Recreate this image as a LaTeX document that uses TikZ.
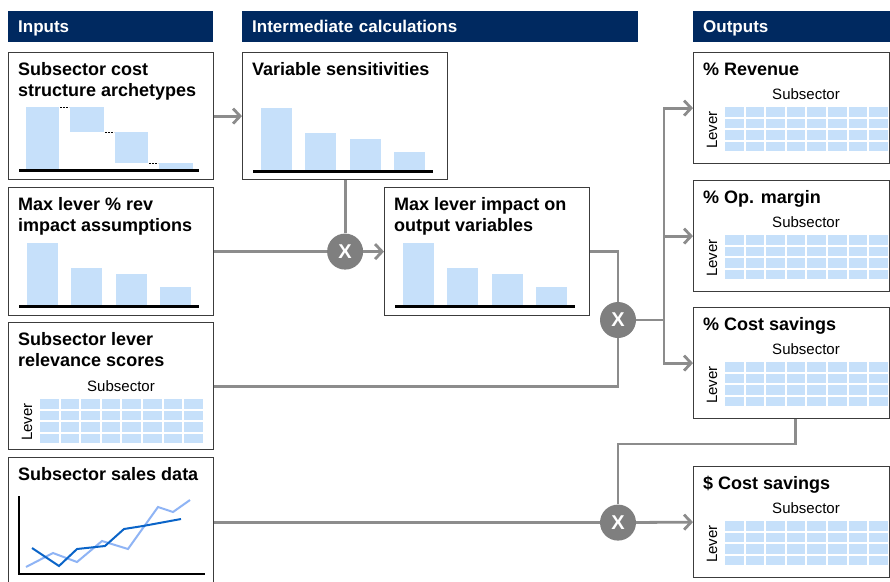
\documentclass[tikz,border=0pt]{standalone}
\usepackage{fontspec}
\setmainfont{Liberation Sans}
\definecolor{HeadNavy}{HTML}{002960}
\definecolor{BoxGray}{HTML}{3C3C3C}
\definecolor{LineGray}{HTML}{8C8C8C}
\definecolor{DotGray}{HTML}{7F7F7F}
\definecolor{BarBlue}{HTML}{C6E0FA}
\definecolor{LightLine}{HTML}{8FB4F5}
\definecolor{DarkLine}{HTML}{0A64C8}
\usetikzlibrary{positioning, arrows.meta, calc}

\begin{document}
\begin{tikzpicture}[
  x=1pt, y=-1pt,
  head/.style={fill=HeadNavy, text=white, anchor=north west, minimum height=31pt,
               inner xsep=10pt, inner ysep=0pt, align=left, text height=14pt, text depth=2pt,
               font=\fontsize{17}{20}\selectfont\bfseries},
  panel/.style={draw=BoxGray, line width=1.2pt, fill=white, anchor=north west, inner sep=0pt},
  title/.style={anchor=base west, align=left, inner sep=0pt,
                font=\fontsize{18}{21}\selectfont\bfseries},
  lab/.style={inner sep=0pt, font=\fontsize{15}{15}\selectfont},
  bar/.style={fill=BarBlue},
  axis/.style={line width=3pt},
  tick/.style={line width=0.8pt, dash pattern=on 2pt off 1pt},
  conn/.style={draw=LineGray, line width=2.8pt},
  arr/.style={conn, -{Straight Barb[length=7pt, width=15pt]}},
  mult/.style={circle, fill=DotGray, text=white, minimum size=36pt, inner sep=0pt,
               font=\fontsize{20}{20}\selectfont\bfseries},
]
  \useasboundingbox (0,0) rectangle (890,581);

  % column headers
  \node[head, text width=185pt] (h-in)  at (8,11)   {Inputs};
  \node[head, text width=376pt] (h-mid) at (242,11) {Intermediate calculations};
  \node[head, text width=177pt] (h-out) at (693,11) {Outputs};

  % panels
  \node[panel, minimum width=205pt, minimum height=127pt] (in1)  at (8,52)   {};
  \node[panel, minimum width=205pt, minimum height=128pt] (in2)  at (8,187)  {};
  \node[panel, minimum width=205pt, minimum height=127pt] (in3)  at (8,322)  {};
  \node[panel, minimum width=205pt, minimum height=130pt] (in4)  at (8,457)  {};
  \node[panel, minimum width=205pt, minimum height=127pt] (mid1) at (242,52) {};
  \node[panel, minimum width=205pt, minimum height=128pt] (mid2) at (384,187) {};
  \node[panel, minimum width=196pt, minimum height=111pt] (out1) at (693,52)  {};
  \node[panel, minimum width=196pt, minimum height=111pt] (out2) at (693,180) {};
  \node[panel, minimum width=196pt, minimum height=111pt] (out3) at (693,307) {};
  \node[panel, minimum width=196pt, minimum height=111pt] (out4) at (693,466) {};

  % titles (base of last line)
  \node[title] (in1-t)  at ($(in1.north west)+(10,44)$)  {Subsector cost\\structure archetypes};
  \node[title] (in2-t)  at ($(in2.north west)+(10,44)$)  {Max lever \% rev\\impact assumptions};
  \node[title] (in3-t)  at ($(in3.north west)+(10,44)$)  {Subsector lever\\relevance scores};
  \node[title] (in4-t)  at ($(in4.north west)+(10,23)$)  {Subsector sales data};
  \node[title] (mid1-t) at ($(mid1.north west)+(10,23)$) {Variable sensitivities};
  \node[title] (mid2-t) at ($(mid2.north west)+(10,44)$) {Max lever impact on\\output variables};
  \node[title] (out1-t) at ($(out1.north west)+(10,23)$) {\% Revenue};
  \node[title] (out2-t) at ($(out2.north west)+(10,23)$) {\% Op. margin};
  \node[title] (out3-t) at ($(out3.north west)+(10,23)$) {\% Cost savings};
  \node[title] (out4-t) at ($(out4.north west)+(10,23)$) {\$ Cost savings};

  % waterfall
  \begin{scope}[shift={(in1.north west)}]
    \fill[bar] (18,55) rectangle (51,117);
    \fill[bar] (62,55) rectangle (96,80);
    \fill[bar] (107,80) rectangle (140,111);
    \fill[bar] (151,111) rectangle (185,117);
    \draw[tick] (52,55) -- (61,55);
    \draw[tick] (97,80) -- (106,80);
    \draw[tick] (141,111) -- (150,111);
    \draw[axis] (11,118) -- (191,118);
  \end{scope}

  % bar charts
  \foreach \g in {in2, mid1, mid2} {
    \begin{scope}[shift={(\g.north west)}]
      \foreach \x/\h in {19/56, 63/81, 108/87, 152/100}
        \fill[bar] (\x,\h) rectangle (\x+31,118);
      \draw[axis] (11,119) -- (191,119);
    \end{scope}
  }

  % lever x subsector grids
  \foreach \g/\dy in {in3/22, out1/0, out2/0, out3/0, out4/0} {
    \begin{scope}[shift={(\g.north west)}]
      \foreach \c in {0,...,7}
        \foreach \r in {0,...,3}
          \fill[bar] ({32+20.6*\c},{55+\dy+11.5*\r}) rectangle +(18.6,9.5);
      \node[lab] (\g-sub) at (113,{42+\dy}) {Subsector};
      \node[lab, rotate=90] (\g-lev) at (19,{78+\dy}) {Lever};
    \end{scope}
  }

  % sales lines
  \begin{scope}[shift={(in4.north west)}]
    \draw[line width=2pt] (11,39) -- (11,117) -- (197,117);
    \draw[LightLine, line width=2pt] (18,110) -- (45,96) -- (69,105) -- (94,84)
      -- (120,92) -- (150,50) -- (165,55) -- (182,43);
    \draw[DarkLine, line width=2pt] (24,91) -- (51,109) -- (69,92) -- (97,89)
      -- (116,72) -- (135,69) -- (173,62);
  \end{scope}

  % multipliers
  \node[mult] (x1) at (mid1.south |- in2.east) {X};
  \node[mult] (x2) at (618,320) {X};
  \node[mult] (x3) at (x2 |- in4.east) {X};
  \coordinate (split) at (664,320);
  \coordinate (jog) at (618,444);

  \draw[arr] (in1.east) -- (mid1.west);
  \draw[conn] (mid1.south) -- (x1);
  \draw[conn] (in2.east) -- (x1);
  \draw[arr] (x1) -- (mid2.west);
  \draw[conn] (mid2.east) -| (x2);
  \draw[conn] (in3.east) -| (x2);
  \draw[conn] (x2) -- (split);
  \draw[arr] (split) |- (out1.west);
  \draw[arr] (split) |- (out2.west);
  \draw[arr] (split) |- (out3.west);
  \draw[conn] ([xshift=4pt]out3.south) |- (jog) -- (x3);
  \draw[conn] (in4.east) -- (x3);
  \draw[arr] (x3) -- (out4.west);
\end{tikzpicture}
\end{document}
